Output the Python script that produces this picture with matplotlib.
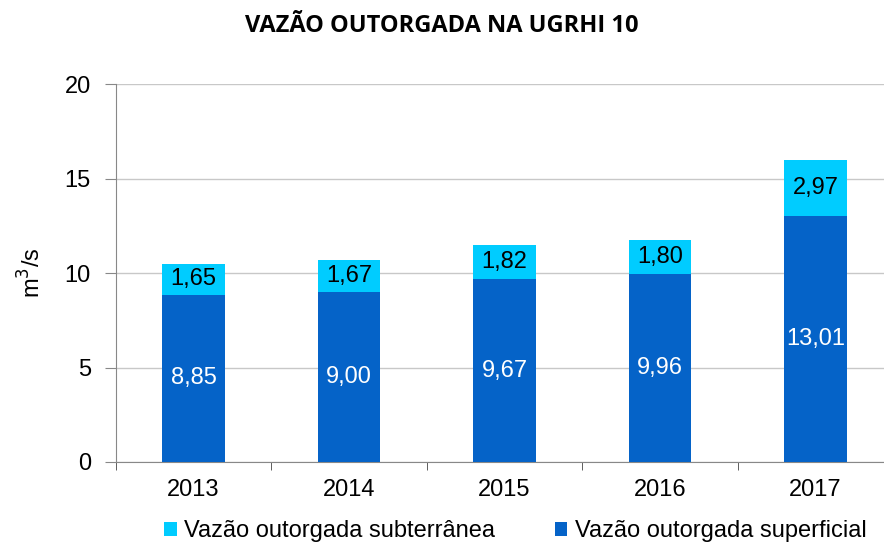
import numpy as np
import matplotlib.pyplot as plt

anos = ['2013', '2014', '2015', '2016', '2017']
superficial = [8.85, 9.00, 9.67, 9.96, 13.01]
subterranea = [1.65, 1.67, 1.82, 1.80, 2.97]

cor_sup = '#0563C8'
cor_sub = '#00CCFF'

plt.rcParams['font.family'] = ['Liberation Sans', 'DejaVu Sans']
fs = 17

fig = plt.figure(figsize=(8.84, 5.5), dpi=100)
ax = fig.add_axes([0.131, 0.16, 0.869, 0.687])

x = np.arange(len(anos))
b1 = ax.bar(x, superficial, width=0.4, color=cor_sup, zorder=3,
            label='Vazão outorgada superficial')
b2 = ax.bar(x, subterranea, width=0.4, bottom=superficial, color=cor_sub, zorder=3,
            label='Vazão outorgada subterrânea')

# rotulos com virgula decimal
ax.bar_label(b1, labels=[f'{v:.2f}'.replace('.', ',') for v in superficial],
             label_type='center', color='white', fontsize=fs, zorder=4)
ax.bar_label(b2, labels=[f'{v:.2f}'.replace('.', ',') for v in subterranea],
             label_type='center', color='black', fontsize=fs, zorder=4)

ax.set_ylim(0, 20)
ax.set_yticks([0, 5, 10, 15, 20])
ax.set_xlim(-0.5, 4.44)
ax.set_xticks(x)
ax.set_xticklabels(anos)
ax.set_xticks(np.arange(-0.5, 4.5, 1), minor=True)
ax.tick_params(axis='x', which='major', length=0, pad=12, labelsize=fs)
ax.tick_params(axis='x', which='minor', length=6, direction='out', color='#444444')
ax.tick_params(axis='y', length=8, direction='out', color='#888888', labelsize=fs, pad=10)

ax.grid(axis='y', color='#c8c8c8', linewidth=1, zorder=0)
for s in ['top', 'right']:
    ax.spines[s].set_visible(False)
ax.spines['left'].set_color('#888888')
ax.spines['bottom'].set_color('#888888')

ax.set_ylabel('m$^3$/s', fontsize=fs, labelpad=14)

h, l = ax.get_legend_handles_labels()
fig.legend(h[::-1], l[::-1], loc='lower center', bbox_to_anchor=(0.583, -0.025), ncol=2,
           frameon=False, fontsize=fs, handlelength=0.55, handleheight=0.55,
           handletextpad=0.3, columnspacing=2.5)

fig.suptitle('VAZÃO OUTORGADA NA UGRHI 10', x=0.5, y=0.975, fontsize=17,
             fontweight='bold', family=['Open Sans', 'DejaVu Sans'])

fig.savefig('out.png', dpi=100)
